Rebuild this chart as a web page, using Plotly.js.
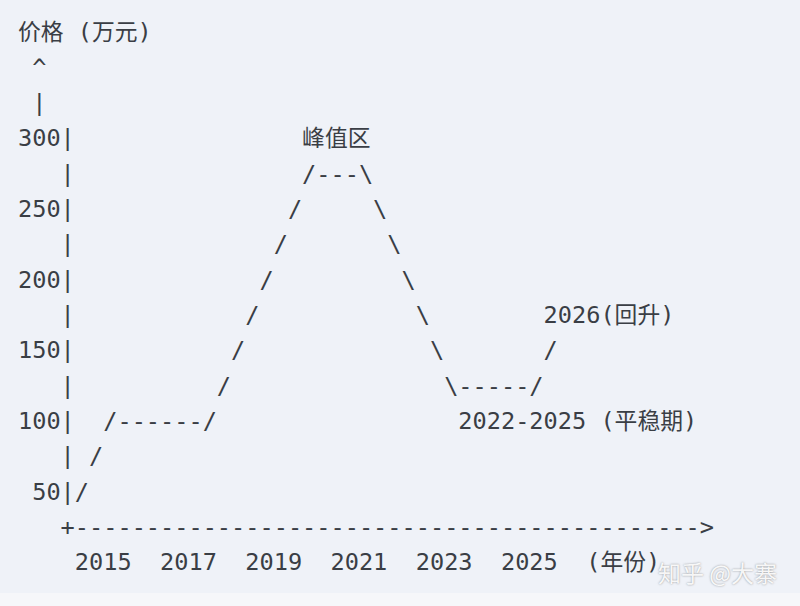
<!DOCTYPE html>
<html>
<head>
<meta charset="utf-8">
<script src="https://cdn.plot.ly/plotly-3.0.1.min.js"></script>
<style>
  html, body { margin: 0; padding: 0; background: #eff2f8; }
  #chart { width: 800px; height: 606px; }
</style>
</head>
<body>
<div id="chart"></div>
<script>
// ---- chart content ----
const yAxisTitle = '价格 (万元)';
const xAxisTitle = '(年份)';
const yTickLabels = ['300', '', '250', '', '200', '', '150', '', '100', '', '50'];
const curveRows = [
  '                峰值区',
  '                /---\\',
  '               /     \\',
  '              /       \\',
  '             /         \\',
  '            /           \\        2026(回升)',
  '           /             \\       /',
  '          /               \\-----/',
  '  /------/                 2022-2025 (平稳期)',
  ' /',
  '/'
];
const yearLabels = ['2015', '2017', '2019', '2021', '2023', '2025'];
const axisLength = 44;
const watermark = '知乎 @大寨';

// ---- build the text rows ----
const lines = [];
lines.push(yAxisTitle);
lines.push(' ^');
lines.push(' |');
yTickLabels.forEach((t, i) => lines.push(t.padStart(3, ' ') + '|' + curveRows[i]));
lines.push('   +' + '-'.repeat(axisLength) + '>');
lines.push('    ' + yearLabels.join('  ') + '  ' + xAxisTitle);

const NBSP = '\u00A0';
const CJK = /([\u3400-\u9fff]+)/g;
const rowText = lines.map(s => s.replace(/ /g, NBSP)
  .replace(CJK, '<span style="font-size:22.8px">$1</span>'));
const rowIdx = lines.map((_, i) => i);
const rowX = lines.map(() => 0);

// ---- geometry ----
const W = 800, H = 606;
const LEFT = 18;       // px of column 0
const Y0 = 34.6;       // px of row 0
const PITCH = 35.33;   // px per row

const trace = {
  type: 'scatter',
  mode: 'text',
  x: rowX,
  y: rowIdx,
  text: rowText,
  textposition: 'middle right',
  textfont: {
    family: '"DejaVu Sans Mono", "Noto Sans CJK SC", monospace',
    size: 23.6,
    color: '#3a3e45'
  },
  hoverinfo: 'skip',
  cliponaxis: false,
  showlegend: false
};

const layout = {
  width: W,
  height: H,
  margin: { l: 0, r: 0, t: 0, b: 0, pad: 0 },
  paper_bgcolor: '#eff2f8',
  plot_bgcolor: 'rgba(0,0,0,0)',
  xaxis: { range: [-LEFT, W - LEFT], visible: false, fixedrange: true },
  yaxis: { range: [(H - Y0) / PITCH, -Y0 / PITCH], visible: false, fixedrange: true },
  shapes: [{
    type: 'rect', xref: 'paper', yref: 'paper',
    x0: 0, x1: 1, y0: 0, y1: (H - 593) / H,
    fillcolor: '#f6f7fa', line: { width: 0 }, layer: 'below'
  }],
  annotations: [{
    xref: 'paper', yref: 'paper',
    x: 717 / W, y: 1 - 572 / H,
    xanchor: 'center', yanchor: 'middle',
    showarrow: false,
    text: watermark,
    font: {
      family: '"Noto Sans CJK SC", sans-serif',
      size: 23,
      color: 'rgba(255,255,255,0.92)',
      shadow: '0px 0px 2px rgba(90,90,90,0.7)'
    }
  }],
  showlegend: false
};

Plotly.newPlot('chart', [trace], layout, { staticPlot: true, displayModeBar: false });
</script>
</body>
</html>
